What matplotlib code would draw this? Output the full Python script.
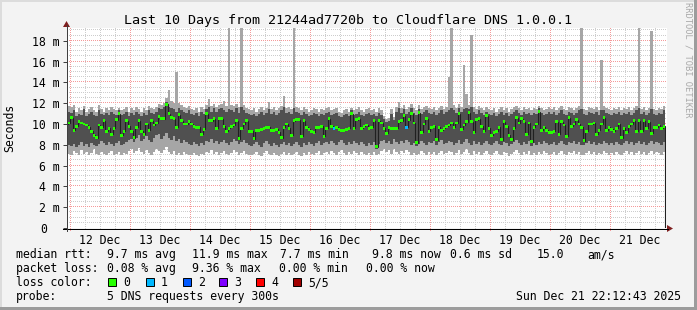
import matplotlib
matplotlib.use("Agg")
import matplotlib.pyplot as plt
import numpy as np
from matplotlib.patches import Rectangle, Polygon
from matplotlib.lines import Line2D

plt.rcParams['font.family'] = ['DejaVu Sans Mono', 'DejaVu Sans']

# ---------------- data (hourly bins, hours since 12 Dec 00:00) ----------------
first_bin_hour = -2          # first bin starts 11 Dec 22:00
day_labels = ["12 Dec", "13 Dec", "14 Dec", "15 Dec", "16 Dec",
              "17 Dec", "18 Dec", "19 Dec", "20 Dec", "21 Dec"]
ytick_values = [0, 2, 4, 6, 8, 10, 12, 14, 16, 18]
ytick_labels = ["0", "2 m", "4 m", "6 m", "8 m", "10 m", "12 m", "14 m", "16 m", "18 m"]

# median rtt (ms)
median_ms = [
    10.0, 10.1,
    10.6, 9.4, 9.8, 10.2, 10.1, 10.0, 9.9, 9.7, 9.3, 8.9, 8.7, 9.9, 9.7, 10.3, 9.3, 9.6, 9.0, 9.6, 10.4, 11.0, 8.9, 9.3, 10.3, 9.8,
    9.3, 8.7, 9.7, 10.3, 9.3, 9.0, 10.0, 9.4, 10.3, 9.9, 10.1, 10.7, 10.5, 10.5, 11.9, 11.0, 10.6, 10.5, 9.7, 10.9, 10.3, 10.0, 10.0, 10.2,
    10.0, 9.8, 9.7, 9.7, 9.0, 9.5, 11.0, 10.3, 10.3, 10.5, 9.6, 10.5, 10.5, 9.8, 9.3, 9.6, 9.8, 9.9, 10.3, 8.6, 9.6, 10.0, 10.3, 9.3,
    9.3, 8.6, 9.4, 9.4, 9.5, 9.6, 9.7, 9.7, 9.4, 9.4, 9.5, 9.2, 8.7, 9.7, 10.0, 9.6, 8.9, 10.3, 10.4, 10.4, 8.8, 10.3, 9.7, 9.5,
    9.3, 9.2, 9.7, 9.7, 9.8, 8.8, 9.6, 10.5, 9.8, 9.6, 9.7, 9.5, 9.4, 9.4, 9.5, 9.6, 11.0, 9.6, 10.4, 10.5, 9.6, 9.8, 9.9, 9.6,
    9.7, 10.3, 7.8, 10.3, 10.1, 9.6, 9.1, 9.7, 9.6, 9.6, 9.6, 10.2, 10.3, 10.8, 9.7, 10.4, 11.0, 10.1, 8.2, 11.1, 9.2, 10.0, 10.5, 9.3,
    9.7, 9.8, 8.5, 9.7, 9.4, 9.6, 9.8, 9.9, 10.1, 9.7, 10.1, 11.0, 9.5, 9.9, 10.2, 11.1, 10.2, 9.2, 10.4, 10.5, 9.8, 9.3, 10.8, 9.6,
    8.9, 9.2, 9.3, 9.7, 8.5, 10.2, 9.8, 8.9, 8.5, 9.6, 10.6, 10.1, 10.5, 10.2, 9.0, 10.1, 8.3, 9.7, 10.0, 11.2, 9.4, 9.7, 9.4, 9.2,
    9.2, 9.3, 10.2, 9.0, 10.2, 9.9, 8.8, 10.6, 9.8, 10.0, 10.4, 10.0, 9.7, 8.4, 9.3, 10.0, 10.0, 10.1, 9.0, 9.4, 10.0, 10.6, 9.4, 9.7,
    9.5, 9.3, 9.6, 10.0, 8.7, 9.6, 9.2, 9.8, 10.0, 10.3, 9.3, 10.3, 9.3, 10.3, 9.6, 10.2, 9.1, 9.7, 9.7, 9.9, 9.6, 9.8,
]

# sorted ping rtts per bin: lowest (p1), 2nd (p2), 4th (p4), highest (p5)
ping_p1 = [
    7.3, 7.1,
    7.0, 7.4, 7.2, 7.0, 7.5, 7.1, 7.3, 7.0, 7.2, 7.6, 7.1, 7.0, 7.3, 7.1, 7.0, 7.2, 7.4, 7.0, 7.1, 7.3, 7.0, 7.2, 7.1, 7.4,
    7.6, 7.2, 7.4, 7.7, 7.3, 7.1, 7.5, 7.2, 7.0, 7.3, 7.6, 7.4, 7.2, 7.5, 7.8, 7.3, 7.1, 7.4, 7.0, 7.2, 7.0, 7.3, 7.1, 7.0,
    7.0, 7.2, 7.0, 6.9, 7.1, 7.0, 7.3, 7.2, 7.5, 7.1, 7.3, 7.0, 7.2, 7.4, 7.1, 7.0, 7.2, 7.5, 7.3, 7.0, 7.2, 7.4, 7.1, 7.0,
    7.0, 7.1, 7.3, 7.0, 6.9, 7.2, 7.4, 7.1, 7.0, 7.2, 7.0, 6.9, 7.1, 7.3, 7.0, 7.2, 7.0, 7.1, 7.3, 7.0, 6.9, 7.2, 7.0, 7.3,
    7.1, 7.0, 7.2, 7.4, 7.0, 7.2, 7.3, 7.1, 7.4, 7.2, 7.0, 7.3, 7.5, 7.2, 7.0, 7.3, 7.1, 7.4, 7.2, 7.0, 7.3, 7.1, 7.0, 7.2,
    7.0, 7.3, 7.0, 7.1, 7.4, 7.6, 7.3, 7.5, 7.1, 7.6, 7.3, 7.1, 7.4, 7.2, 7.5, 7.3, 7.0, 7.2, 7.0, 7.1, 7.4, 7.2, 7.0, 7.3,
    7.1, 7.3, 7.0, 7.2, 7.4, 7.1, 7.2, 7.4, 7.3, 7.0, 7.2, 7.5, 7.1, 7.3, 7.6, 7.2, 7.0, 7.4, 7.1, 7.3, 7.0, 7.2, 7.4, 7.1,
    7.0, 7.2, 7.4, 7.1, 7.0, 7.3, 7.2, 6.9, 7.1, 7.3, 7.5, 7.2, 7.0, 7.3, 7.1, 7.4, 7.0, 7.2, 7.0, 7.3, 7.1, 7.4, 7.2, 7.0,
    7.1, 7.3, 7.0, 7.2, 7.4, 7.1, 7.0, 7.3, 7.2, 7.4, 7.1, 7.3, 7.0, 7.0, 7.2, 7.4, 7.1, 7.3, 7.0, 7.2, 7.1, 7.4, 7.2, 7.0,
    7.2, 7.0, 7.3, 7.1, 7.0, 7.2, 7.4, 7.1, 7.3, 7.0, 7.2, 7.4, 7.1, 7.3, 7.0, 7.2, 7.4, 7.1, 7.3, 7.2, 7.0, 7.3,
]
ping_p2 = [
    8.2, 8.0,
    7.9, 8.1, 7.8, 8.0, 8.3, 7.9, 8.1, 7.8, 8.2, 8.0, 7.9, 8.1, 8.4, 8.2, 8.0, 8.3, 8.1, 7.9, 8.2, 8.4, 8.0, 8.1, 8.3, 8.5,
    8.6, 8.3, 8.7, 8.9, 8.4, 8.6, 8.8, 8.5, 8.3, 8.7, 8.9, 9.0, 8.6, 8.8, 9.1, 8.7, 8.5, 8.8, 8.4, 8.6, 8.2, 8.5, 8.3, 8.1,
    8.0, 8.3, 8.1, 7.9, 8.2, 8.0, 8.4, 8.3, 8.6, 8.2, 8.4, 8.1, 8.3, 8.5, 8.2, 8.0, 8.3, 8.6, 8.4, 8.1, 8.3, 8.5, 8.2, 8.0,
    7.9, 8.1, 8.3, 8.0, 7.8, 8.2, 8.4, 8.1, 7.9, 8.2, 8.0, 7.8, 8.1, 8.3, 8.0, 8.2, 7.9, 8.1, 8.3, 8.0, 7.8, 8.2, 8.0, 8.3,
    8.1, 7.9, 8.2, 8.4, 8.0, 8.2, 8.3, 8.1, 8.4, 8.2, 8.0, 8.3, 8.5, 8.2, 8.0, 8.3, 8.1, 8.4, 8.2, 8.0, 8.3, 8.1, 7.9, 8.2,
    8.0, 8.3, 7.6, 8.1, 8.4, 8.5, 8.2, 8.4, 8.1, 8.6, 8.3, 8.1, 8.4, 8.2, 8.5, 8.3, 8.0, 8.2, 7.9, 8.1, 8.4, 8.2, 8.0, 8.3,
    8.2, 8.4, 8.0, 8.3, 8.5, 8.1, 8.2, 8.4, 8.3, 8.0, 8.2, 8.5, 8.1, 8.3, 8.6, 8.2, 8.0, 8.4, 8.1, 8.3, 8.0, 8.2, 8.4, 8.1,
    8.0, 8.2, 8.4, 8.1, 8.0, 8.3, 8.2, 7.9, 8.1, 8.3, 8.5, 8.2, 8.0, 8.3, 8.1, 8.4, 7.9, 8.2, 8.0, 8.3, 8.1, 8.4, 8.2, 8.0,
    8.1, 8.3, 8.0, 8.2, 8.4, 8.1, 8.0, 8.3, 8.2, 8.4, 8.1, 8.3, 8.0, 8.0, 8.2, 8.4, 8.1, 8.3, 8.0, 8.2, 8.1, 8.4, 8.2, 8.0,
    8.2, 8.0, 8.3, 8.1, 8.0, 8.2, 8.4, 8.1, 8.3, 8.0, 8.2, 8.4, 8.1, 8.3, 8.0, 8.2, 8.4, 8.1, 8.3, 8.2, 8.0, 8.3,
]
ping_p4 = [
    11.0, 11.2,
    11.1, 11.3, 10.8, 11.0, 10.9, 11.4, 10.8, 11.0, 11.2, 10.9, 10.8, 11.3, 11.0, 10.9, 11.1, 10.9, 11.2, 11.0, 10.9, 11.3, 10.9, 11.0, 11.2, 10.8,
    11.1, 10.9, 11.2, 11.0, 10.8, 11.1, 10.9, 11.3, 11.1, 11.0, 11.2, 11.5, 11.4, 11.6, 12.1, 11.6, 11.5, 11.4, 11.2, 11.5, 11.3, 11.2, 11.1, 11.3,
    11.0, 10.9, 11.1, 10.8, 11.2, 11.0, 11.4, 11.6, 11.2, 11.5, 11.2, 11.4, 11.5, 11.3, 11.2, 11.4, 11.3, 11.2, 11.5, 11.1, 11.6, 11.3, 11.1, 11.0,
    10.9, 11.0, 10.8, 11.0, 11.2, 10.9, 11.1, 11.4, 11.0, 11.2, 10.9, 11.1, 11.3, 11.6, 11.1, 11.2, 11.0, 11.5, 11.2, 11.1, 10.9, 11.2, 11.0, 10.8,
    10.9, 11.1, 11.0, 10.8, 11.0, 10.9, 11.1, 11.2, 10.9, 11.0, 11.1, 10.8, 10.7, 10.9, 11.0, 10.8, 11.3, 10.9, 11.0, 11.2, 10.9, 10.8, 11.0, 11.1,
    10.9, 11.0, 10.8, 11.1, 10.9, 10.5, 10.2, 10.3, 11.0, 10.4, 11.2, 11.5, 11.1, 11.4, 11.0, 11.2, 11.5, 11.1, 10.9, 11.4, 11.0, 11.2, 11.3, 11.1,
    11.0, 11.2, 10.9, 11.1, 11.3, 11.0, 11.2, 11.3, 11.5, 11.3, 11.1, 11.5, 11.2, 11.4, 11.5, 11.4, 11.6, 11.2, 11.0, 11.3, 11.1, 10.9, 11.2, 11.0,
    10.9, 11.1, 10.8, 11.0, 11.2, 10.9, 11.1, 10.8, 11.0, 11.2, 11.3, 11.1, 10.9, 11.2, 11.0, 11.1, 10.9, 11.1, 11.0, 11.5, 11.1, 10.9, 11.0, 11.2,
    11.0, 11.2, 10.9, 11.1, 11.3, 11.0, 10.9, 11.2, 11.1, 10.9, 11.1, 11.3, 11.4, 11.0, 10.9, 11.2, 11.1, 11.0, 11.2, 10.9, 11.3, 11.3, 11.1, 11.0,
    10.9, 11.1, 11.0, 11.2, 10.9, 11.1, 11.0, 11.2, 10.9, 11.1, 11.3, 11.5, 11.0, 11.2, 10.9, 11.1, 11.4, 11.0, 10.9, 11.1, 11.0, 11.3,
]
ping_p5 = [
    11.8, 11.7,
    11.6, 11.8, 11.2, 11.5, 11.3, 11.7, 11.2, 11.4, 11.6, 11.3, 11.2, 11.8, 11.4, 11.2, 11.5, 11.3, 11.6, 11.4, 11.3, 11.5, 11.3, 11.4, 11.6, 11.2,
    11.5, 11.3, 11.6, 11.4, 11.2, 11.5, 11.3, 11.7, 11.5, 11.4, 11.6, 11.9, 11.8, 12.0, 12.5, 13.3, 12.2, 12.0, 15.0, 12.0, 11.8, 11.6, 11.5, 11.7,
    11.4, 11.3, 11.5, 11.2, 11.6, 11.4, 11.8, 12.4, 11.7, 11.9, 11.6, 11.8, 11.9, 12.2, 11.7, 19.5, 11.8, 11.7, 11.9, 11.6, 19.5, 11.8, 11.5, 11.4,
    11.3, 11.5, 11.2, 11.4, 11.6, 11.3, 11.5, 12.1, 11.4, 11.6, 11.3, 11.5, 11.7, 12.7, 11.5, 11.6, 11.4, 19.5, 11.6, 11.5, 11.3, 11.6, 11.4, 11.2,
    11.3, 11.5, 11.4, 11.2, 11.4, 11.3, 11.5, 11.6, 11.3, 11.4, 11.5, 11.2, 11.1, 11.3, 11.4, 11.2, 11.5, 11.3, 11.4, 11.6, 11.3, 11.2, 11.4, 11.5,
    11.3, 11.4, 11.2, 11.5, 11.3, 10.8, 10.5, 10.6, 11.4, 10.7, 11.6, 12.1, 11.5, 11.8, 11.4, 11.6, 11.9, 11.5, 11.3, 11.8, 11.4, 11.6, 11.7, 11.5,
    11.4, 11.6, 11.3, 11.5, 11.7, 11.4, 11.6, 14.5, 19.5, 11.8, 11.5, 11.9, 11.6, 15.7, 12.9, 11.8, 18.6, 11.6, 11.4, 11.7, 11.5, 11.3, 11.6, 11.4,
    11.3, 11.5, 11.2, 11.4, 11.6, 11.3, 11.5, 11.2, 11.4, 11.6, 11.7, 11.5, 11.3, 11.6, 11.4, 11.5, 11.3, 11.5, 11.4, 11.7, 11.5, 11.3, 11.4, 11.6,
    11.4, 11.6, 11.3, 11.5, 11.7, 11.4, 11.3, 11.6, 11.5, 11.3, 11.5, 11.7, 19.5, 11.4, 11.3, 11.6, 11.5, 11.4, 11.6, 11.3, 16.2, 11.7, 11.5, 11.4,
    11.3, 11.5, 11.4, 11.6, 11.3, 11.5, 11.4, 11.6, 11.3, 11.5, 11.7, 19.5, 11.4, 11.6, 11.3, 11.5, 18.9, 11.4, 11.3, 11.5, 11.4, 11.7,
]
# hours (bin start) where median is drawn in the "1 lost" colour
loss1_hours = [105, 134]

loss_names = ["0", "1", "2", "3", "4", "5/5"]
loss_colors = ["#26ff00", "#00b8ff", "#0059ff", "#7e00ff", "#ff0000", "#a10000"]

legend_rtt = ["9.7 ms avg", "11.9 ms max", "7.7 ms min", "9.8 ms now", "0.6 ms sd", "15.0", "am/s"]
legend_loss = ["0.08 % avg", "9.36 % max", "0.00 % min", "0.00 % now"]

n = len(median_ms)
assert all(len(a) == n for a in (ping_p1, ping_p2, ping_p4, ping_p5)), \
    [len(a) for a in (median_ms, ping_p1, ping_p2, ping_p4, ping_p5)]

# ---------------- figure ----------------
W, H = 697, 310
PX_PER_H = 2.5      # pixels per hour
PX_PER_MS = 10.4    # pixels per millisecond


def fx(px):
    return px / W


def fy(py):
    return 1 - py / H


fig = plt.figure(figsize=(W / 100, H / 100), dpi=100, facecolor="#f3f3f3")
ax = fig.add_axes([fx(66.5), fy(228), 600 / W, 200 / H])
ax.set_facecolor("white")
XMIN, XMAX = -1.4, 238.6
YMAX = 200 / PX_PER_MS
ax.set_xlim(XMIN, XMAX)
ax.set_ylim(0, YMAX)
for s in ax.spines.values():
    s.set_visible(False)

edges = np.arange(first_bin_hour, first_bin_hour + n + 1)

# dotted grid drawn as single pixels, one dot every 2 px (below the smoke)
minor_c = "#cdcdcd"
major_c = "#f59a9a"
dots_y = np.arange(-3 / PX_PER_MS, YMAX, 2 / PX_PER_MS)
dots_x = np.arange(XMIN + 0.2, XMAX, 2 / PX_PER_H)
for h in range(0, 240, 6):
    major = (h % 24 == 0)
    yy = dots_y if major else dots_y[1:]
    ax.plot(np.full(len(yy), h), yy, linestyle="none", marker=",",
            color=major_c if major else minor_c, clip_on=False, zorder=0.5)
for v in np.arange(0.5, 19.2, 0.5):
    major = abs(v % 2) < 1e-9
    ax.plot(dots_x, np.full(len(dots_x), v), linestyle="none", marker=",",
            color=major_c if major else minor_c, zorder=0.5)

# smoke
ax.stairs(ping_p5, edges, baseline=ping_p1, fill=True, color="#a6a6a6", lw=0, zorder=1)
ax.stairs(ping_p4, edges, baseline=ping_p2, fill=True, color="#505050", lw=0, zorder=1.1)

# median line + loss-coloured markers
ax.stairs(median_ms, edges, color="#202020", lw=0.8, zorder=3)
bar_colors = [loss_colors[1] if h in loss1_hours else loss_colors[0] for h in edges[:-1]]
half = 0.14
ax.bar(edges[:-1], 2 * half, bottom=np.asarray(median_ms) - half, width=1.0,
       align="edge", color=bar_colors, lw=0, zorder=4)

# ticks
ax.set_yticks(ytick_values, ytick_labels)
ax.set_xticks([12 + 24 * k for k in range(len(day_labels))], day_labels)
ax.tick_params(axis="y", length=2.9, width=0.72, color="#404040", pad=1.8,
               labelsize=8.3, direction="out")
ax.tick_params(axis="x", length=0, pad=4.3, labelsize=8.3)
ax.yaxis.get_major_ticks()[0].set_pad(10.8)

# axis lines and arrows
fig.add_artist(Line2D([fx(63), fx(668)], [fy(228.5), fy(228.5)], color="black", lw=0.72))
fig.add_artist(Line2D([fx(66.5), fx(66.5)], [fy(231), fy(25)], color="#404040", lw=0.72))
fig.add_artist(Polygon([(fx(667), fy(225)), (fx(667), fy(232)), (fx(673), fy(228.5))],
                       closed=True, color="#7f1f1f", lw=0, transform=fig.transFigure))
fig.add_artist(Polygon([(fx(63), fy(27)), (fx(70), fy(27)), (fx(66.5), fy(21))],
                       closed=True, color="#7f1f1f", lw=0, transform=fig.transFigure))

# titles
fig.text(fx(347.5), fy(24), "Last 10 Days from 21244ad7720b to Cloudflare DNS 1.0.0.1",
         ha="center", va="baseline", fontsize=9.6)
fig.text(fx(10), fy(128), "Seconds", rotation=90, ha="center", va="center", fontsize=8.3)
fig.text(fx(688), fy(60), "RRDTOOL / TOBI OETIKER", rotation=270, ha="center", va="center",
         fontsize=6.3, color="#a8a8a8")

# legend lines
fs = 8.3
fig.text(fx(16), fy(258.3), "median rtt:", fontsize=fs, va="baseline")
for txt, px in zip(legend_rtt, [107, 192, 280, 372, 450, 537, 587]):
    fig.text(fx(px), fy(258.3), txt, fontsize=fs, va="baseline")
fig.text(fx(16), fy(272), "packet loss:", fontsize=fs, va="baseline")
for txt, px in zip(legend_loss, [107, 192, 279, 366]):
    fig.text(fx(px), fy(272), txt, fontsize=fs, va="baseline")
fig.text(fx(16), fy(286), "loss color:", fontsize=fs, va="baseline")
for name, col, px in zip(loss_names, loss_colors, [108, 146, 183, 219, 256, 293]):
    fig.add_artist(Rectangle((fx(px), fy(286)), 8 / W, 8 / H, facecolor=col,
                             edgecolor="black", lw=0.7, transform=fig.transFigure))
    fig.text(fx(px + 15), fy(286), name, fontsize=fs, va="baseline")
fig.text(fx(16), fy(300), "probe:", fontsize=fs, va="baseline")
fig.text(fx(107), fy(300), "5 DNS requests every 300s", fontsize=fs, va="baseline")
fig.text(fx(681), fy(300), "Sun Dec 21 22:12:43 2025", fontsize=fs, va="baseline", ha="right")

# frame
fig.add_artist(Rectangle((0, fy(2)), 1, 2 / H, facecolor="#dcdcdc", lw=0, transform=fig.transFigure))
fig.add_artist(Rectangle((0, 0), 2 / W, 1, facecolor="#dcdcdc", lw=0, transform=fig.transFigure))
fig.add_artist(Rectangle((0, 0), 1, 3 / H, facecolor="#9c9c9c", lw=0, transform=fig.transFigure))
fig.add_artist(Rectangle((fx(694), 0), 3 / W, 1, facecolor="#9c9c9c", lw=0, transform=fig.transFigure))

fig.savefig("out.png", dpi=100, facecolor=fig.get_facecolor())
